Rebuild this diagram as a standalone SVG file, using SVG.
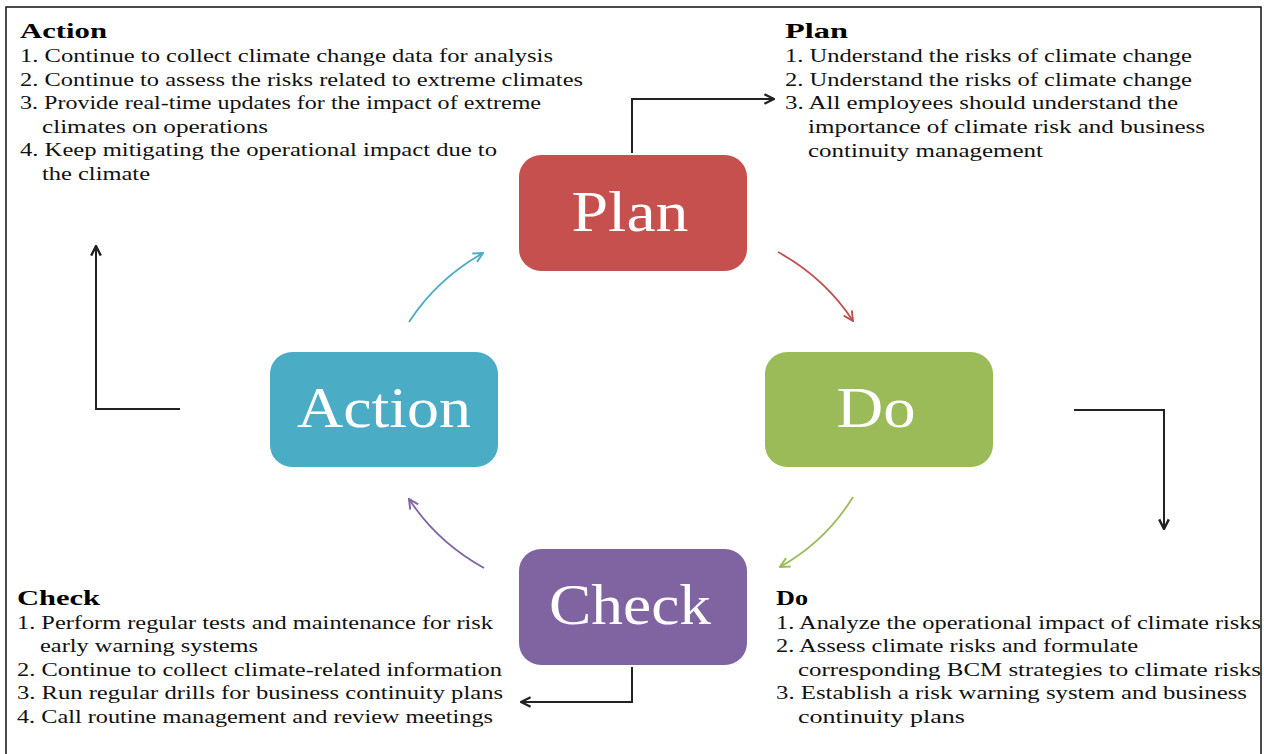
<svg xmlns="http://www.w3.org/2000/svg" width="1264" height="754" viewBox="0 0 1264 754">
<style>
.t{font-family:"Liberation Serif","Times New Roman",serif;font-size:19px;fill:#111;}
.h{font-family:"Liberation Serif","Times New Roman",serif;font-size:21px;font-weight:bold;fill:#000;}
.lbl{font-family:"Liberation Serif","Times New Roman",serif;font-size:56px;fill:#fff;text-anchor:middle;}
.conn{fill:none;stroke:#222;stroke-width:2;}
.cur{fill:none;stroke-width:1.8;}
</style>
<defs>
<marker id="ak" viewBox="0 0 10 10" refX="9" refY="5" markerWidth="12" markerHeight="12" markerUnits="userSpaceOnUse" orient="auto"><path d="M1,1 L9,5 L1,9" fill="none" stroke="#222" stroke-width="2"/></marker>
<marker id="ar" viewBox="0 0 10 10" refX="9" refY="5" markerWidth="12" markerHeight="12" markerUnits="userSpaceOnUse" orient="auto"><path d="M1,1 L9,5 L1,9" fill="none" stroke="#C0504D" stroke-width="1.6"/></marker>
<marker id="ag" viewBox="0 0 10 10" refX="9" refY="5" markerWidth="12" markerHeight="12" markerUnits="userSpaceOnUse" orient="auto"><path d="M1,1 L9,5 L1,9" fill="none" stroke="#9BBB59" stroke-width="1.6"/></marker>
<marker id="ab" viewBox="0 0 10 10" refX="9" refY="5" markerWidth="12" markerHeight="12" markerUnits="userSpaceOnUse" orient="auto"><path d="M1,1 L9,5 L1,9" fill="none" stroke="#4BACC6" stroke-width="1.6"/></marker>
<marker id="ap" viewBox="0 0 10 10" refX="9" refY="5" markerWidth="12" markerHeight="12" markerUnits="userSpaceOnUse" orient="auto"><path d="M1,1 L9,5 L1,9" fill="none" stroke="#8064A2" stroke-width="1.6"/></marker>
</defs>
<rect width="1264" height="754" fill="#fff"/>
<path d="M6,754 L6,7 L1261,7 L1261,754" fill="none" stroke="#111" stroke-width="1.5"/>

<g id="connectors">
<path class="conn" d="M632,153 L632,99 L774,99" marker-end="url(#ak)"/>
<path class="conn" d="M180,409 L96,409 L96,246" marker-end="url(#ak)"/>
<path class="conn" d="M1074,410 L1164,410 L1164,529" marker-end="url(#ak)"/>
<path class="conn" d="M632,667 L632,702 L521,702" marker-end="url(#ak)"/>
<path class="cur" stroke="#4BACC6" d="M409,322 Q437,279 483,253" marker-end="url(#ab)"/>
<path class="cur" stroke="#C0504D" d="M778,252 Q825,278 853,321" marker-end="url(#ar)"/>
<path class="cur" stroke="#9BBB59" d="M853,497 Q826,541 780,567" marker-end="url(#ag)"/>
<path class="cur" stroke="#8064A2" d="M484,568 Q437,542 409,499" marker-end="url(#ap)"/>
</g>

<g id="plan">
<rect x="519" y="155" width="228" height="116" rx="22" fill="#C6504D"/>
<text class="lbl" x="630" y="231" textLength="117" lengthAdjust="spacingAndGlyphs">Plan</text>
</g>
<g id="do">
<rect x="765" y="352" width="228" height="115" rx="22" fill="#9BBB59"/>
<text class="lbl" x="876" y="427" textLength="79" lengthAdjust="spacingAndGlyphs">Do</text>
</g>
<g id="action">
<rect x="270" y="352" width="228" height="115" rx="22" fill="#4BACC6"/>
<text class="lbl" x="384" y="427" textLength="174" lengthAdjust="spacingAndGlyphs">Action</text>
</g>
<g id="check">
<rect x="519" y="549" width="228" height="116" rx="22" fill="#8064A2"/>
<text class="lbl" x="630" y="624" textLength="162" lengthAdjust="spacingAndGlyphs">Check</text>
</g>

<g id="action-text">
<text class="h" x="20" y="38" textLength="87" lengthAdjust="spacingAndGlyphs">Action</text>
<text class="t" x="20" y="62" textLength="533" lengthAdjust="spacingAndGlyphs">1. Continue to collect climate change data for analysis</text>
<text class="t" x="20" y="86" textLength="563" lengthAdjust="spacingAndGlyphs">2. Continue to assess the risks related to extreme climates</text>
<text class="t" x="20" y="109" textLength="521" lengthAdjust="spacingAndGlyphs">3. Provide real-time updates for the impact of extreme</text>
<text class="t" x="42" y="133" textLength="226" lengthAdjust="spacingAndGlyphs">climates  on operations</text>
<text class="t" x="20" y="156" textLength="477" lengthAdjust="spacingAndGlyphs">4. Keep mitigating the operational impact due to</text>
<text class="t" x="42" y="180" textLength="108" lengthAdjust="spacingAndGlyphs">the climate</text>
</g>

<g id="plan-text">
<text class="h" x="785" y="38" textLength="63" lengthAdjust="spacingAndGlyphs">Plan</text>
<text class="t" x="785" y="62" textLength="407" lengthAdjust="spacingAndGlyphs">1. Understand the risks of climate change</text>
<text class="t" x="785" y="86" textLength="407" lengthAdjust="spacingAndGlyphs">2. Understand the risks of climate change</text>
<text class="t" x="785" y="109" textLength="393" lengthAdjust="spacingAndGlyphs">3. All employees should understand the</text>
<text class="t" x="808" y="133" textLength="397" lengthAdjust="spacingAndGlyphs">importance  of climate risk and business</text>
<text class="t" x="808" y="157" textLength="235" lengthAdjust="spacingAndGlyphs">continuity management</text>
</g>

<g id="check-text">
<text class="h" x="17" y="605" textLength="83" lengthAdjust="spacingAndGlyphs">Check</text>
<text class="t" x="17" y="629" textLength="476" lengthAdjust="spacingAndGlyphs">1. Perform  regular tests and maintenance for risk</text>
<text class="t" x="40" y="652" textLength="218" lengthAdjust="spacingAndGlyphs">early warning systems</text>
<text class="t" x="17" y="676" textLength="485" lengthAdjust="spacingAndGlyphs">2. Continue to collect climate-related information</text>
<text class="t" x="17" y="699" textLength="486" lengthAdjust="spacingAndGlyphs">3. Run regular drills for business continuity plans</text>
<text class="t" x="17" y="723" textLength="476" lengthAdjust="spacingAndGlyphs">4. Call routine management  and review meetings</text>
</g>

<g id="do-text">
<text class="h" x="776" y="605" textLength="32" lengthAdjust="spacingAndGlyphs">Do</text>
<text class="t" x="776" y="629" textLength="485" lengthAdjust="spacingAndGlyphs">1. Analyze the operational impact of climate risks</text>
<text class="t" x="776" y="652" textLength="362" lengthAdjust="spacingAndGlyphs">2. Assess climate risks and formulate</text>
<text class="t" x="798" y="676" textLength="463" lengthAdjust="spacingAndGlyphs">corresponding BCM strategies to climate risks</text>
<text class="t" x="776" y="699" textLength="471" lengthAdjust="spacingAndGlyphs">3. Establish a risk warning system and business</text>
<text class="t" x="798" y="723" textLength="167" lengthAdjust="spacingAndGlyphs">continuity plans</text>
</g>
</svg>
